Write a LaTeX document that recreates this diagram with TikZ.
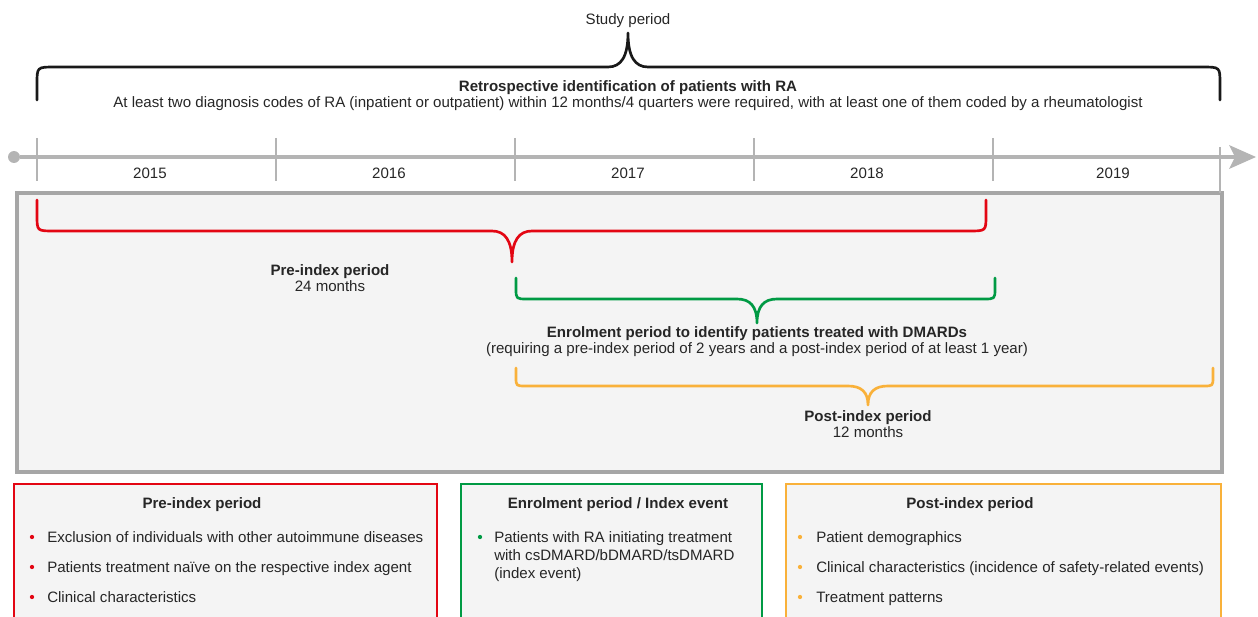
\documentclass[tikz,border=0pt]{standalone}
\usepackage{fontspec}
\setmainfont{Liberation Sans}
\definecolor{cred}{HTML}{E30613}
\definecolor{cgreen}{HTML}{009A44}
\definecolor{corange}{HTML}{F9B13A}
\definecolor{boxgray}{HTML}{A6A6A6}
\definecolor{linegray}{HTML}{B4B4B4}
\definecolor{bgfill}{HTML}{F4F4F4}
\definecolor{txt}{HTML}{262626}
\newcommand\curlybrace[7]{%
  \draw[bracestyle,#1] (#2,#5) -- (#2,{#6+(#5-#6)*0.5})
    .. controls (#2,#6) .. ({#2+abs(#5-#6)*0.55},#6)
    -- ({#4-20},#6)
    .. controls ({#4-7},#6) and (#4,{#6+(#7-#6)*0.3}) .. (#4,#7)
    .. controls (#4,{#6+(#7-#6)*0.3}) and ({#4+7},#6) .. ({#4+20},#6)
    -- ({#3-abs(#5-#6)*0.55},#6)
    .. controls (#3,#6) .. (#3,{#6+(#5-#6)*0.5}) -- (#3,#5);}
\tikzset{
  bracestyle/.style={line width=2pt, line cap=round, line join=round},
  lbl/.style={font=\fontsize{11.3}{13.5}\selectfont, text=txt, inner sep=0pt, text height=8pt, text depth=2.3pt, yshift=-1.5pt},
  blbl/.style={lbl, font=\fontsize{11.3}{13.5}\selectfont\bfseries},
  tick/.style={draw=linegray, line width=2.2pt},
  panel/.style={line width=1.6pt, fill=bgfill},
  dot/.style={circle, inner sep=0pt, minimum size=3.2pt},
}
\begin{document}
\begin{tikzpicture}[x=0.75pt,y=-0.75pt]
\useasboundingbox (0,0) rectangle (1258,617);
\clip (0,0) rectangle (1258,617);
% study period brace
\node[lbl] (study) at (628,19) {Study period};
\curlybrace{black!90}{37}{1220}{628}{100}{67}{33}
\node[blbl] (retro) at (628,86) {Retrospective identification of patients with RA};
\node[lbl] (retro2) at (628,102) {At least two diagnosis codes of RA (inpatient or outpatient) within 12 months/4 quarters were required, with at least one of them coded by a rheumatologist};
% timeline
\node[circle, fill=linegray, inner sep=0pt, minimum size=9pt] (start) at (14,157) {};
\coordinate (arrowbase) at (1236,157);
\draw[linegray, line width=2.4pt] (start) -- (arrowbase);
\fill[linegray] (1229,145) -- (1256,157) -- (1229,169) -- (1235,157) -- cycle;
\foreach \x in {37,276,515,754,993} \draw[tick] (\x,138) -- (\x,181);
\foreach \y/\x in {2015/150,2016/389,2017/628,2018/867,2019/1113}
  \node[lbl] (y\y) at (\x,173) {\y};
% gray box
\draw[boxgray, line width=3pt, fill=bgfill] (17,193) rectangle (1222,472);
\draw[tick] (1220,147) -- (1220,193);
% braces
\curlybrace{cred}{37}{986}{512}{200}{231}{262}
\curlybrace{cgreen}{516}{995}{757}{278}{299}{323}
\curlybrace{corange}{516}{1213}{868}{368}{386}{405}
\node[blbl] (pre) at (330,270) {Pre-index period};
\node[lbl] (pre2) at (330,286) {24 months};
\node[blbl] (enr) at (757,332) {Enrolment period to identify patients treated with DMARDs};
\node[lbl] (enr2) at (757,348) {(requiring a pre-index period of 2 years and a post-index period of at least 1 year)};
\node[blbl] (post) at (868,416) {Post-index period};
\node[lbl] (post2) at (868,432) {12 months};
% bottom panels
\draw[panel, draw=cred] (14,484) rectangle (437,640);
\draw[panel, draw=cgreen] (461,484) rectangle (762,640);
\draw[panel, draw=corange] (786,484) rectangle (1221,640);
\node[blbl] (t1) at (202,503) {Pre-index period};
\node[blbl] (t2) at (618,503) {Enrolment period / Index event};
\node[blbl] (t3) at (970,503) {Post-index period};
% red bullets
\foreach \y/\t [count=\i] in {537/Exclusion of individuals with other autoimmune diseases,567/Patients treatment naïve on the respective index agent,597/Clinical characteristics}{
  \node[dot, fill=cred] (rd\i) at (32,\y) {};
  \node[lbl, anchor=west] (rt\i) at (47,\y) {\t};
}
% green bullet
\node[dot, fill=cgreen] (gd1) at (480,537) {};
\node[lbl, anchor=west] (gt1) at (494,537) {Patients with RA initiating treatment};
\node[lbl, anchor=west] (gt2) at (494,555) {with csDMARD/bDMARD/tsDMARD};
\node[lbl, anchor=west] (gt3) at (494,573) {(index event)};
% orange bullets
\foreach \y/\t [count=\i] in {537/Patient demographics,567/Clinical characteristics (incidence of safety-related events),597/Treatment patterns}{
  \node[dot, fill=corange] (od\i) at (800,\y) {};
  \node[lbl, anchor=west] (ot\i) at (816,\y) {\t};
}
\end{tikzpicture}
\end{document}
